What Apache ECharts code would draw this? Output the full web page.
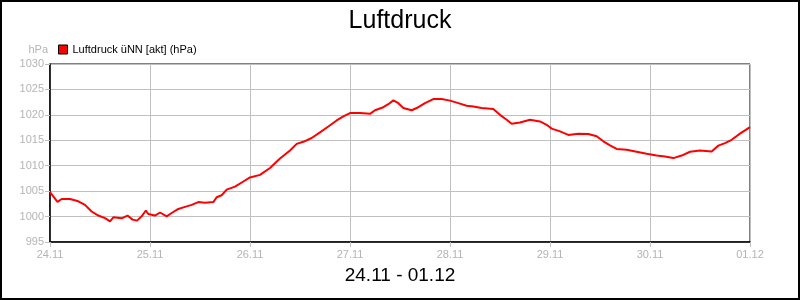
<!DOCTYPE html>
<html>
<head>
<meta charset="utf-8">
<script src="https://cdn.jsdelivr.net/npm/echarts@6/dist/echarts.min.js"></script>
<style>
html,body{margin:0;padding:0;background:#fff;}
#frame{position:absolute;left:0;top:0;width:800px;height:300px;box-sizing:border-box;border:2px solid #000;}
#c{position:absolute;left:0;top:0;width:800px;height:300px;}
</style>
</head>
<body>
<div id="c"></div>
<div id="frame"></div>
<script>
// hours since 24.11 00:00
const hours = [0,1.8,2.8,4.8,6.8,8.4,10.0,11.6,13.2,14.4,
15.2,17.2,18.6,19.8,20.9,22.0,23.0,23.6,25.2,26.4,
28.0,29.2,30.8,32.4,34.0,35.6,37.2,39.2,40.0,41.2,
42.4,44.4,46.4,48.0,50.4,52.8,55.2,57.6,59.2,60.8,
62.8,64.8,66.8,68.8,70.4,72.0,74.4,76.8,78.0,80.0,
81.2,82.4,83.6,84.8,86.8,88.4,90.0,92.0,94.0,96.0,
98.0,100.0,101.6,103.6,106.4,108.0,109.6,110.8,112.8,115.2,
117.6,119.2,120.4,122.4,124.4,126.8,129.2,131.2,132.8,134.4,
136.0,138.4,140.8,143.2,145.6,147.6,149.6,151.6,153.6,156.0,
158.8,160.4,162.0,163.6,165.6,168.0];
const pressure = [1004.8,1002.9,1003.45,1003.45,1003.0,1002.3,1001.0,1000.2,999.7,999.05,
999.85,999.65,1000.2,999.4,999.2,1000.05,1001.2,1000.5,1000.2,1000.8,
1000.05,1000.7,1001.5,1001.9,1002.3,1002.85,1002.7,1002.85,1003.8,1004.2,
1005.3,1005.9,1006.9,1007.7,1008.2,1009.55,1011.4,1013.0,1014.3,1014.7,
1015.45,1016.55,1017.7,1018.9,1019.7,1020.35,1020.35,1020.2,1020.9,1021.5,
1022.1,1022.85,1022.3,1021.35,1020.9,1021.5,1022.3,1023.1,1023.1,1022.8,
1022.3,1021.8,1021.65,1021.35,1021.15,1020.0,1019.05,1018.25,1018.5,1019.05,
1018.7,1018.05,1017.3,1016.75,1016.05,1016.3,1016.25,1015.8,1014.8,1014.0,
1013.3,1013.15,1012.75,1012.35,1012.0,1011.8,1011.5,1012.0,1012.75,1013.0,
1012.8,1013.95,1014.45,1015.1,1016.3,1017.6];
const dayLabels = ['24.11','25.11','26.11','27.11','28.11','29.11','30.11','01.12'];
const titleText = 'Luftdruck';
const subText = '24.11 - 01.12';
const seriesName = 'Luftdruck üNN [akt] (hPa)';

const data = hours.map((h, i) => [h, pressure[i]]);
const chart = echarts.init(document.getElementById('c'), null, {renderer: 'canvas'});
const font = 'Liberation Sans, Arial, sans-serif';
chart.setOption({
  animation: false,
  backgroundColor: '#fff',
  textStyle: {fontFamily: font},
  title: [
    {text: titleText, left: 'center', top: 4, textStyle: {fontFamily: font, fontSize: 25, fontWeight: 'normal', color: '#000'}},
    {text: subText, left: 'center', top: 261, textStyle: {fontFamily: font, fontSize: 19, fontWeight: 'normal', color: '#000'}}
  ],
  legend: {
    left: 53, top: 39, itemWidth: 9, itemHeight: 9, itemGap: 4,
    icon: 'rect',
    textStyle: {fontFamily: font, fontSize: 11, color: '#000', padding: [0,0,0,0]},
    data: [{name: seriesName, itemStyle: {color: '#ff0000', borderColor: '#000', borderWidth: 1}}]
  },
  grid: {left: 50, top: 64, right: 50, bottom: 58, show: true, borderColor: '#000', borderWidth: 1, containLabel: false},
  xAxis: {
    type: 'value', min: 0, max: 168, interval: 24,
    axisLine: {show: true, onZero: false, lineStyle: {color: '#000', width: 1.5}},
    axisTick: {show: true, length: 5, lineStyle: {color: '#c0c0c0'}},
    splitLine: {show: true, lineStyle: {color: '#c0c0c0', width: 1}},
    axisLabel: {color: '#b4b4b4', fontSize: 11, fontFamily: font, margin: 7, formatter: v => dayLabels[Math.round(v / 24)]}
  },
  yAxis: {
    type: 'value', min: 995, max: 1030, interval: 5,
    name: 'hPa', nameLocation: 'end', nameGap: 9,
    nameTextStyle: {color: '#b4b4b4', fontSize: 11, fontFamily: font, align: 'right', padding: [0, 2, 0, 0]},
    axisLine: {show: true, lineStyle: {color: '#000', width: 1.5}},
    axisTick: {show: true, length: 5, lineStyle: {color: '#c0c0c0'}},
    splitLine: {show: true, lineStyle: {color: '#c0c0c0', width: 1}},
    axisLabel: {color: '#b4b4b4', fontSize: 11, fontFamily: font, margin: 6, formatter: v => String(v)}
  },
  series: [{
    name: seriesName, type: 'line', data: data, showSymbol: false, symbol: 'none',
    lineStyle: {color: '#ff0000', width: 2}, itemStyle: {color: '#ff0000'}
  }]
});
</script>
</body>
</html>
